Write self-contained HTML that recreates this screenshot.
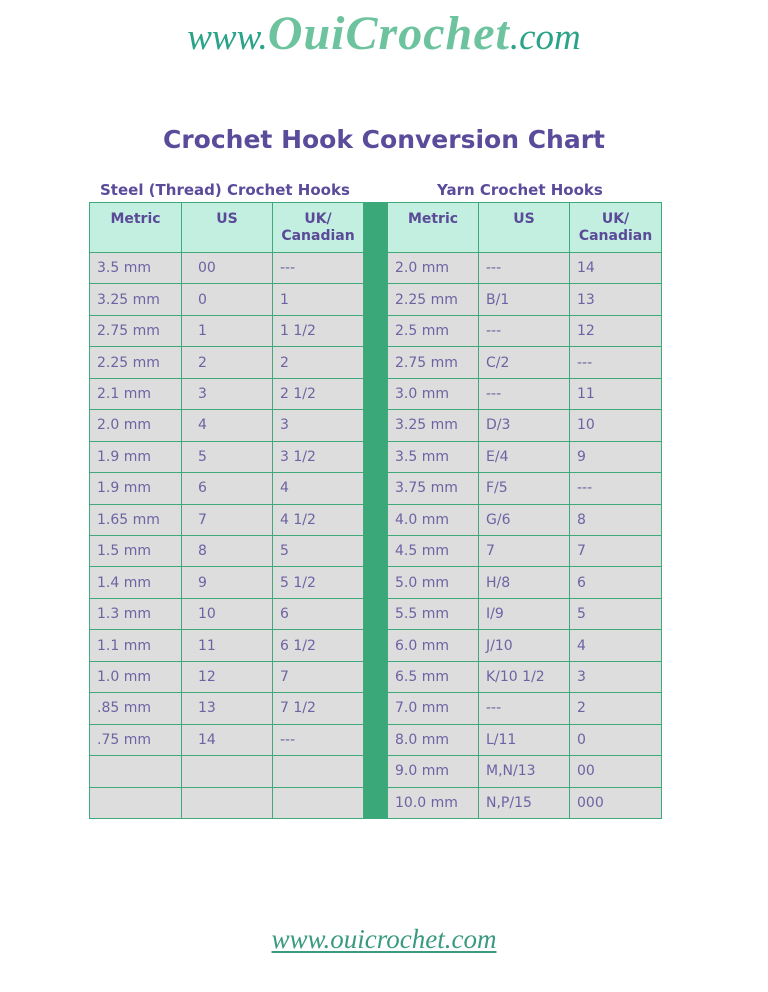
<!DOCTYPE html>
<html><head><meta charset="utf-8"><style>
*{margin:0;padding:0;box-sizing:border-box}
body{width:768px;height:992px;background:#fff;position:relative;overflow:hidden;font-family:"DejaVu Sans","Liberation Sans",sans-serif}
.abs{position:absolute}
.logo{left:0;width:768px;top:4px;height:60px;font-size:48px;line-height:60px;text-align:center;white-space:nowrap;color:#2aa388;font-family:"Liberation Serif",serif}
.logo .a{font-size:37px;font-style:italic}
.logo .b{font-size:48px;font-style:italic;font-weight:bold;color:#6cc39d;letter-spacing:1px}
.title{left:0;width:768px;top:125px;text-align:center;font-size:25px;font-weight:bold;color:#5b4b9b;white-space:nowrap}
.sub{top:181px;font-size:15px;font-weight:bold;color:#5b4b9b;white-space:nowrap}
.tbl{top:202px;height:617px;width:275px;background:#3fa979;padding:1px;display:grid;gap:1px;grid-template-rows:49px repeat(18,1fr)}
.tl{left:89px;grid-template-columns:91px 90px 90px}
.tr{left:387px;grid-template-columns:90px 90px 91px}
.tbl div{background:#dddddd;color:#6e62a3;font-size:14px;display:flex;align-items:center;padding-left:7px;white-space:nowrap}
.tbl div.h{background:#c2efe0;color:#5a4a98;font-weight:bold;align-items:flex-start;justify-content:center;text-align:center;padding:8px 0 0 0;line-height:17px}
.tl div.u{padding-left:16px}
.bar{left:363px;top:202px;width:25px;height:617px;background:#3aa878}
.foot{left:0;width:768px;top:924px;text-align:center;font-family:"Liberation Serif",serif;font-style:italic;font-size:27px;color:#3a9a80;text-decoration:underline;text-decoration-thickness:2px;text-underline-offset:3px}
</style></head><body>
<div class="abs logo"><span class="a">www.</span><span class="b">OuiCrochet</span><span class="a">.com</span></div>
<div class="abs title">Crochet Hook Conversion Chart</div>
<div class="abs sub" style="left:100px">Steel (Thread) Crochet Hooks</div>
<div class="abs sub" style="left:437px">Yarn Crochet Hooks</div>
<div class="abs bar"></div>
<div class="abs tbl tl">
<div class="h">Metric</div><div class="h">US</div><div class="h">UK/<br>Canadian</div>
<div>3.5 mm</div><div class="u">00</div><div>---</div>
<div>3.25 mm</div><div class="u">0</div><div>1</div>
<div>2.75 mm</div><div class="u">1</div><div>1 1/2</div>
<div>2.25 mm</div><div class="u">2</div><div>2</div>
<div>2.1 mm</div><div class="u">3</div><div>2 1/2</div>
<div>2.0 mm</div><div class="u">4</div><div>3</div>
<div>1.9 mm</div><div class="u">5</div><div>3 1/2</div>
<div>1.9 mm</div><div class="u">6</div><div>4</div>
<div>1.65 mm</div><div class="u">7</div><div>4 1/2</div>
<div>1.5 mm</div><div class="u">8</div><div>5</div>
<div>1.4 mm</div><div class="u">9</div><div>5 1/2</div>
<div>1.3 mm</div><div class="u">10</div><div>6</div>
<div>1.1 mm</div><div class="u">11</div><div>6 1/2</div>
<div>1.0 mm</div><div class="u">12</div><div>7</div>
<div>.85 mm</div><div class="u">13</div><div>7 1/2</div>
<div>.75 mm</div><div class="u">14</div><div>---</div>
<div></div><div></div><div></div>
<div></div><div></div><div></div>
</div>
<div class="abs tbl tr">
<div class="h">Metric</div><div class="h">US</div><div class="h">UK/<br>Canadian</div>
<div>2.0 mm</div><div>---</div><div>14</div>
<div>2.25 mm</div><div>B/1</div><div>13</div>
<div>2.5 mm</div><div>---</div><div>12</div>
<div>2.75 mm</div><div>C/2</div><div>---</div>
<div>3.0 mm</div><div>---</div><div>11</div>
<div>3.25 mm</div><div>D/3</div><div>10</div>
<div>3.5 mm</div><div>E/4</div><div>9</div>
<div>3.75 mm</div><div>F/5</div><div>---</div>
<div>4.0 mm</div><div>G/6</div><div>8</div>
<div>4.5 mm</div><div>7</div><div>7</div>
<div>5.0 mm</div><div>H/8</div><div>6</div>
<div>5.5 mm</div><div>I/9</div><div>5</div>
<div>6.0 mm</div><div>J/10</div><div>4</div>
<div>6.5 mm</div><div>K/10 1/2</div><div>3</div>
<div>7.0 mm</div><div>---</div><div>2</div>
<div>8.0 mm</div><div>L/11</div><div>0</div>
<div>9.0 mm</div><div>M,N/13</div><div>00</div>
<div>10.0 mm</div><div>N,P/15</div><div>000</div>
</div>
<div class="abs foot">www.ouicrochet.com</div>
</body></html>
